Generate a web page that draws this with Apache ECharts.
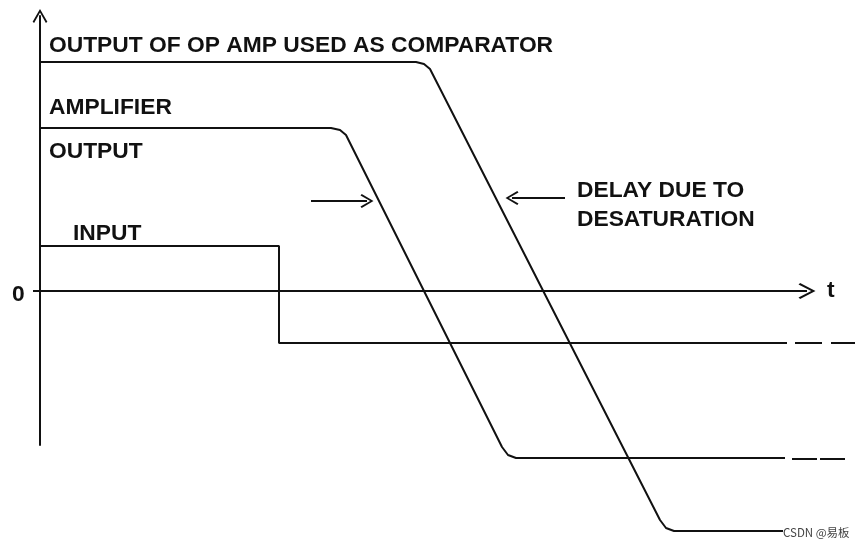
<!DOCTYPE html>
<html lang="en">

<head>
    <meta charset="UTF-8">
    <title>Op amp comparator delay</title>
    <script src="https://cdn.jsdelivr.net/npm/echarts@6/dist/echarts.min.js"></script>
    <style>
        body { margin: 0; background: #fff; }
    </style>
</head>

<body>
    <div id="main" style="width: 866px;height:548px;"></div>

    <script>
        // time in units, level in units (axis 0 = the t axis)
        var compT = [0, 37.6, 38.4, 39.0, 62.0, 62.6, 63.4, 74.3];
        var compV = [22.9, 22.9, 22.7, 22.2, -22.9, -23.7, -24.0, -24.0];

        var ampT = [0, 29.1, 30.0, 30.6, 46.2, 46.8, 47.6, 74.5];
        var ampV = [16.3, 16.3, 16.1, 15.6, -15.6, -16.4, -16.7, -16.7];
        var ampTail = [[75.2, 77.7], [78.0, 80.5]];
        var ampTailV = -16.8;

        var inT = [0, 23.9, 23.9, 74.7];
        var inV = [4.5, 4.5, -5.2, -5.2];
        var inTail = [[75.5, 78.2], [79.1, 81.5]];
        var inTailV = -5.2;

        // t axis extent and annotation arrows: [from, to]
        var tAxis = [[-0.7, 0], [76.7, 0]];
        var arrowAmp = [[27.1, 9.0], [32.7, 9.0]];
        var arrowDelay = [[52.5, 9.3], [47.2, 9.3]];

        var ink = '#111';
        var chevron = 'path://M50,0 L100,86 L90,95 L50,24 L10,95 L0,86 Z';
        var font = '"Liberation Sans", Arial, sans-serif';

        function zip(t, v) {
            var out = [];
            for (var i = 0; i < t.length; i++) out.push([t[i], v[i]]);
            return out;
        }

        function trace(data) {
            return {
                type: 'line',
                data: data,
                showSymbol: false,
                clip: false,
                silent: true,
                lineStyle: { color: ink, width: 2 }
            };
        }

        function arrow(pair, size) {
            return [{ coord: pair[0], symbolSize: size }, { coord: pair[1], symbolSize: size }];
        }

        var series = [trace(zip(compT, compV)), trace(zip(ampT, ampV)), trace(zip(inT, inV))];
        ampTail.forEach(function (d) { series.push(trace([[d[0], ampTailV], [d[1], ampTailV]])); });
        inTail.forEach(function (d) { series.push(trace([[d[0], inTailV], [d[1], inTailV]])); });

        series.push({
            type: 'line',
            data: [],
            silent: true,
            markLine: {
                silent: true,
                animation: false,
                symbol: ['none', chevron],
                label: { show: false },
                lineStyle: { color: ink, width: 2, type: 'solid' },
                data: [
                    arrow(tAxis, [16, 17]),
                    arrow(arrowAmp, [14, 13]),
                    arrow(arrowDelay, [14, 13])
                ]
            }
        });

        function label(text, x, y, size) {
            return {
                type: 'text',
                x: x,
                y: y,
                silent: true,
                style: {
                    text: text,
                    fill: ink,
                    font: 'bold ' + (size || 22.8) + 'px ' + font,
                    verticalAlign: 'middle',
                    align: 'left'
                }
            };
        }

        var myChart = echarts.init(document.getElementById('main'));
        var option = {
            animation: false,
            backgroundColor: '#fff',
            grid: { left: 33, right: 10, top: 16, bottom: 103 },
            xAxis: {
                type: 'value',
                min: -0.7,
                max: 81.6,
                axisLine: { show: false },
                axisTick: { show: false },
                axisLabel: { show: false },
                splitLine: { show: false }
            },
            yAxis: {
                type: 'value',
                min: -15.4,
                max: 27.5,
                axisLine: {
                    onZero: true,
                    symbol: ['none', chevron],
                    symbolSize: [15, 14],
                    lineStyle: { color: ink, width: 2 }
                },
                axisTick: { show: false },
                axisLabel: { show: false },
                splitLine: { show: false }
            },
            graphic: [
                label('OUTPUT OF OP AMP USED AS COMPARATOR', 49, 46),
                label('AMPLIFIER', 49, 108),
                label('OUTPUT', 49, 152),
                label('INPUT', 73, 234),
                label('DELAY DUE TO', 577, 191),
                label('DESATURATION', 577, 220),
                label('0', 12, 295),
                label('t', 827, 291),
                {
                    type: 'text',
                    x: 783,
                    y: 533,
                    z: 100,
                    silent: true,
                    style: {
                        text: 'CSDN @易板',
                        fill: '#444',
                        font: '11.5px "Noto Sans CJK SC", sans-serif',
                        verticalAlign: 'middle'
                    }
                }
            ],
            series: series
        };
        myChart.setOption(option);
    </script>
</body>

</html>
